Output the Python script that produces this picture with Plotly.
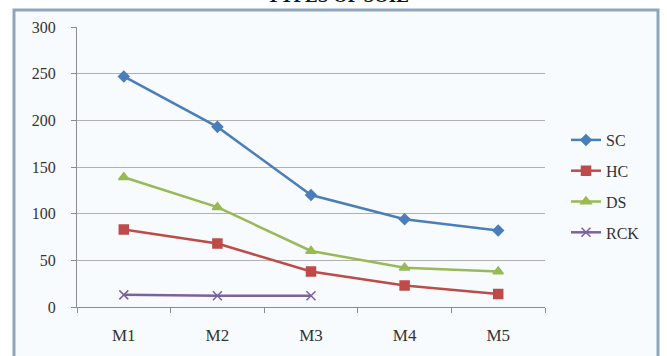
import plotly.graph_objects as go

# Soil-type measurements across five sampling points
months = ["M1", "M2", "M3", "M4", "M5"]
sc_vals = [247, 193, 120, 94, 82]
hc_vals = [83, 68, 38, 23, 14]
ds_vals = [139, 107, 60, 42, 38]
rck_vals = [13, 12, 12]

y_ticks = [0, 50, 100, 150, 200, 250, 300]

W, H = 667, 356
L, R, T, B = 77, 122, 27, 49
pw, ph = W - L - R, H - T - B

SERIF = "Liberation Serif, Times New Roman, DejaVu Serif, serif"


def px(x):
    return (x - L) / pw


def py(y):
    return (H - B - y) / ph


series = [
    ("SC", sc_vals, "#4a7ebb", "diamond", 8),
    ("HC", hc_vals, "#be4b48", "square", 9),
    ("DS", ds_vals, "#98b954", "triangle-up", 9),
    ("RCK", rck_vals, "#7d60a0", "x-thin", 9),
]

fig = go.Figure()
for i, (name, vals, color, sym, size) in enumerate(series):
    fig.add_trace(go.Scatter(
        x=months[:len(vals)], y=vals, name=name, mode="lines+markers",
        line=dict(color=color, width=2.5),
        marker=dict(symbol=sym, size=size, color=color,
                    line=dict(color=color, width=1.5)),
        legendgroup=f"g{i}",
    ))

fig.update_layout(
    width=W, height=H,
    margin=dict(l=L, r=R, t=T, b=B),
    paper_bgcolor="white",
    plot_bgcolor="rgba(0,0,0,0)",
    font=dict(family=SERIF, size=16, color="#333333"),
    showlegend=True,
    legend=dict(
        x=px(566), y=py(123), xanchor="left", yanchor="top",
        font=dict(family=SERIF, size=16, color="#333333"),
        tracegroupgap=7, itemwidth=30, bgcolor="rgba(0,0,0,0)",
    ),
    xaxis=dict(
        type="category", categoryorder="array", categoryarray=months,
        range=[-0.5, 4.5], showgrid=False,
        showline=True, linecolor="#8c8c8c", linewidth=1,
        ticks="outside", tickson="boundaries", ticklen=5, tickcolor="#8c8c8c",
        tickfont=dict(family=SERIF, size=17), ticklabelstandoff=13,
    ),
    yaxis=dict(
        range=[0, 300], tickvals=y_ticks,
        showgrid=True, gridcolor="#b0b0b0", gridwidth=1,
        showline=True, linecolor="#8c8c8c", linewidth=1,
        ticks="outside", ticklen=5, tickcolor="#8c8c8c",
        tickfont=dict(family=SERIF, size=16), ticklabelstandoff=12,
        zeroline=False,
    ),
    shapes=[
        # faint tinted chart area inside the frame
        dict(type="rect", xref="paper", yref="paper", layer="below",
             x0=px(14), x1=px(658), y0=py(360), y1=py(10),
             fillcolor="#f7fbfe", line=dict(width=0)),
        # outer frame
        dict(type="rect", xref="paper", yref="paper", layer="above",
             x0=px(14), x1=px(658), y0=py(362), y1=py(10),
             fillcolor="rgba(0,0,0,0)", line=dict(color="#8fa6bf", width=3)),
    ],
    annotations=[
        dict(text="<b>TYPES OF SOIL</b>", xref="paper", yref="paper",
             x=px(338), y=py(8), xanchor="center", yanchor="bottom",
             showarrow=False,
             font=dict(family=SERIF, size=19, color="#111111")),
    ],
)

fig.write_html("out.html")
